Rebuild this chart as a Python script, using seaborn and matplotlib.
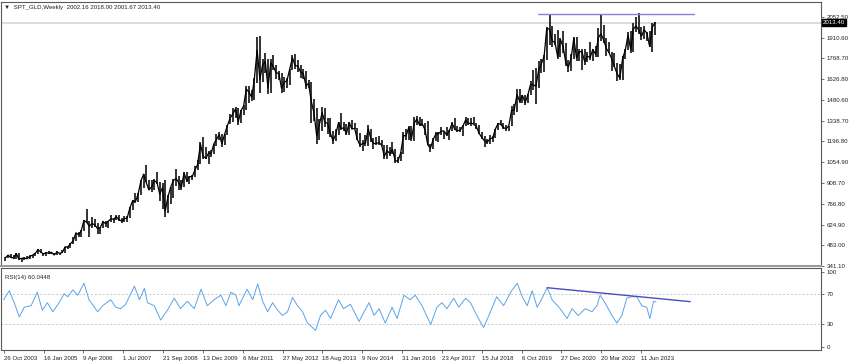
import pandas as pd
import numpy as np
import matplotlib
matplotlib.use("Agg")
import matplotlib.pyplot as plt
import seaborn as sns

# monthly gold prices (Nov 2003 .. Nov 2023)
close = [398, 416,
         400, 396, 427, 388, 394, 395, 391, 408, 416, 429, 453, 438,
         423, 434, 428, 436, 417, 436, 429, 433, 473, 470, 495, 513,
         569, 556, 582, 654, 643, 614, 633, 624, 599, 604, 646, 632,
         650, 665, 662, 680, 658, 650, 665, 673, 743, 789, 783, 834,
         923, 972, 916, 864, 885, 928, 914, 834, 880, 718, 816, 882,
         928, 942, 916, 883, 979, 926, 955, 955, 1001, 1040, 1180, 1096,
         1081, 1118, 1113, 1180, 1212, 1244, 1181, 1248, 1307, 1357, 1386, 1421,
         1333, 1410, 1439, 1556, 1536, 1500, 1628, 1826, 1624, 1722, 1746, 1564,
         1737, 1710, 1669, 1664, 1562, 1604, 1614, 1692, 1773, 1719, 1714, 1675,
         1662, 1578, 1597, 1472, 1393, 1234, 1313, 1396, 1327, 1323, 1253, 1202,
         1244, 1326, 1284, 1291, 1250, 1327, 1282, 1287, 1210, 1172, 1183, 1184,
         1284, 1213, 1183, 1183, 1190, 1172, 1095, 1133, 1115, 1142, 1065, 1061,
         1118, 1238, 1234, 1293, 1215, 1322, 1351, 1309, 1316, 1277, 1173, 1152,
         1211, 1249, 1249, 1268, 1269, 1242, 1269, 1322, 1280, 1271, 1275, 1303,
         1345, 1318, 1325, 1315, 1299, 1253, 1224, 1201, 1192, 1215, 1222, 1282,
         1321, 1313, 1292, 1284, 1305, 1409, 1413, 1520, 1472, 1513, 1464, 1517,
         1589, 1585, 1577, 1686, 1730, 1781, 1975, 1967, 1886, 1879, 1777, 1898,
         1847, 1734, 1708, 1769, 1906, 1770, 1814, 1813, 1743, 1783, 1774, 1829,
         1796, 1909, 1937, 1896, 1837, 1807, 1766, 1711, 1660, 1633, 1768, 1824,
         1928, 1827, 1969, 1990, 1963, 1919, 1965, 1940, 1849, 1983, 2013]

high = [400, 417,
        427, 416, 431, 428, 396, 400, 409, 414, 416, 430, 455, 456,
        430, 437, 446, 437, 432, 442, 430, 448, 474, 480, 497, 538,
        571, 573, 586, 655, 730, 650, 678, 665, 638, 611, 650, 648,
        652, 690, 672, 694, 690, 670, 683, 684, 745, 795, 845, 840,
        932, 975, 1033, 935, 935, 939, 988, 920, 912, 935, 830, 885,
        937, 1007, 960, 930, 985, 990, 960, 965, 1025, 1070, 1195, 1227,
        1162, 1128, 1140, 1180, 1250, 1265, 1245, 1250, 1313, 1388, 1424, 1431,
        1424, 1412, 1448, 1576, 1577, 1552, 1632, 1912, 1921, 1761, 1804, 1764,
        1764, 1790, 1720, 1680, 1670, 1640, 1630, 1694, 1790, 1796, 1755, 1724,
        1697, 1684, 1617, 1606, 1487, 1424, 1348, 1434, 1424, 1361, 1361, 1267,
        1280, 1332, 1392, 1331, 1315, 1332, 1345, 1322, 1290, 1255, 1208, 1238,
        1307, 1285, 1224, 1225, 1232, 1205, 1170, 1170, 1157, 1191, 1142, 1088,
        1123, 1263, 1282, 1303, 1304, 1362, 1375, 1367, 1352, 1325, 1338, 1180,
        1220, 1264, 1262, 1295, 1270, 1296, 1274, 1331, 1357, 1306, 1299, 1309,
        1366, 1361, 1356, 1366, 1326, 1309, 1265, 1237, 1214, 1243, 1237, 1284,
        1326, 1347, 1324, 1310, 1306, 1439, 1453, 1555, 1557, 1517, 1517, 1525,
        1611, 1689, 1704, 1747, 1765, 1789, 1984, 2075, 1992, 1933, 1965, 1906,
        1959, 1875, 1755, 1797, 1912, 1916, 1832, 1834, 1834, 1814, 1877, 1831,
        1853, 1974, 2070, 1998, 1910, 1880, 1814, 1808, 1735, 1729, 1786, 1833,
        1949, 1959, 2009, 2049, 2079, 1983, 1987, 1949, 1953, 2009, 2018]

low = [378, 398,
       399, 390, 392, 384, 372, 384, 387, 386, 397, 411, 422, 428,
       410, 413, 424, 423, 414, 414, 415, 428, 433, 461, 466, 490,
       515, 538, 538, 582, 640, 543, 605, 612, 560, 560, 605, 610,
       602, 645, 637, 660, 653, 640, 646, 642, 672, 723, 775, 782,
       832, 880, 918, 862, 850, 860, 906, 786, 736, 681, 705, 770,
       807, 890, 865, 865, 883, 920, 905, 930, 950, 1000, 1040, 1075,
       1075, 1045, 1088, 1114, 1163, 1207, 1157, 1175, 1241, 1314, 1330, 1360,
       1308, 1325, 1381, 1415, 1462, 1478, 1480, 1600, 1532, 1603, 1668, 1523,
       1527, 1688, 1627, 1616, 1527, 1540, 1565, 1582, 1687, 1692, 1673, 1635,
       1625, 1555, 1562, 1321, 1338, 1180, 1207, 1270, 1293, 1251, 1227, 1182,
       1200, 1240, 1278, 1268, 1240, 1240, 1282, 1281, 1206, 1160, 1131, 1168,
       1167, 1191, 1142, 1175, 1170, 1163, 1077, 1077, 1098, 1113, 1052, 1046,
       1061, 1110, 1208, 1207, 1200, 1200, 1310, 1301, 1305, 1241, 1171, 1122,
       1146, 1199, 1195, 1240, 1214, 1236, 1204, 1267, 1277, 1260, 1264, 1236,
       1303, 1307, 1303, 1314, 1282, 1245, 1211, 1160, 1180, 1182, 1196, 1221,
       1276, 1310, 1281, 1266, 1266, 1301, 1382, 1400, 1459, 1459, 1445, 1459,
       1517, 1548, 1451, 1567, 1670, 1671, 1757, 1863, 1848, 1860, 1764, 1775,
       1803, 1717, 1677, 1678, 1766, 1750, 1750, 1690, 1721, 1746, 1758, 1753,
       1780, 1780, 1890, 1872, 1787, 1805, 1681, 1710, 1615, 1617, 1616, 1765,
       1823, 1805, 1810, 1950, 1932, 1893, 1903, 1885, 1847, 1810, 1931]

# RSI(14): bar index (weeks from 26 Oct 2003) and value
rsi_week = [0, 9, 17, 25, 33, 44, 54, 62, 70, 79, 89, 97, 103, 111, 119, 129,
            137, 151, 159, 172, 180, 188, 196, 210, 218, 226, 231, 242, 252, 263,
            274, 284, 295, 306, 317, 327, 338, 349, 357, 365, 373, 378, 391, 400,
            408, 416, 424, 432, 440, 448, 456, 464, 472, 480, 488, 496, 501, 509,
            517, 525, 538, 546, 557, 571, 579, 587, 595, 603, 613, 624, 632, 643,
            653, 661, 672, 686, 696, 704, 712, 723, 731, 742, 750, 760, 771, 782,
            792, 803, 816, 825, 833, 841, 849, 857, 865, 873, 881, 894, 905, 913,
            923, 934, 945, 953, 958, 966, 977, 985, 993, 1001, 1009, 1017, 1025,
            1033, 1038, 1044, 1048]
rsi_value = [63, 75, 59, 40, 53, 55, 73, 49, 59, 47, 59, 71, 67, 76, 69, 85,
             63, 47, 55, 63, 53, 51, 57, 81, 63, 78, 59, 55, 36, 49,
             65, 51, 61, 51, 77, 55, 63, 69, 55, 73, 69, 55, 77, 63,
             84, 61, 47, 59, 49, 42, 47, 66, 55, 47, 32, 26, 22, 42,
             49, 38, 63, 51, 57, 34, 47, 59, 42, 51, 32, 53, 38, 69,
             63, 69, 55, 30, 53, 59, 51, 65, 53, 65, 59, 42, 26, 47,
             67, 55, 75, 85, 67, 55, 75, 53, 65, 79, 63, 51, 38, 51,
             42, 51, 47, 55, 69, 59, 42, 32, 42, 65, 67, 67, 55,
             53, 38, 61, 60.04]

x_labels = ["26 Oct 2003", "16 Jan 2005", "9 Apr 2006", "1 Jul 2007", "21 Sep 2008",
            "13 Dec 2009", "6 Mar 2011", "27 May 2012", "18 Aug 2013", "9 Nov 2014",
            "31 Jan 2016", "23 Apr 2017", "15 Jul 2018", "6 Oct 2019", "27 Dec 2020",
            "20 Mar 2022", "11 Jun 2023"]
price_ticks = [2052.50, 1910.60, 1768.70, 1626.80, 1480.60, 1338.70, 1196.80,
               1054.90, 908.70, 766.80, 624.90, 483.00, 341.10]
rsi_ticks = [100, 70, 30, 0]
last_price = 2013.40
resistance = 2070
res_weeks = [859, 1109]
rsi_trend_weeks = [873, 1103]
rsi_trend_values = [79, 60.4]

start = pd.Timestamp("2003-10-26")
months = pd.date_range("2003-11-01", periods=len(close), freq="MS")
df = pd.DataFrame({"close": close, "high": high, "low": low})
df["week"] = ((months + pd.Timedelta(days=14)) - start).days / 7.0
rsi_df = pd.DataFrame({"week": rsi_week, "rsi": rsi_value})

sns.set_style("white")
plt.rcParams["font.family"] = ["Liberation Sans", "DejaVu Sans"]
fs = 4.4
spine_c = "#5a5a5a"

fig = plt.figure(figsize=(8.5, 3.64), dpi=100)
ax = fig.add_axes([0.0012, 0.2692, 0.9647, 0.7253])
ax2 = fig.add_axes([0.0012, 0.0385, 0.9647, 0.2253])

# price pane
ax.axhline(last_price, color="#dcdcdc", lw=1.4, zorder=1)
ax.vlines(df["week"], df["low"], df["high"], color="#111111", lw=1.2, zorder=3)
sns.lineplot(data=df, x="week", y="close", ax=ax, color="black", lw=0.9, zorder=3)
ax.plot(res_weeks, [resistance, resistance], color="#8282dc", lw=1.0, zorder=4)
ax.set_xlim(-4.3, 1313)
ax.set_ylim(341.1, 2155)
ax.yaxis.tick_right()
ax.set_yticks(price_ticks)
ax.set_yticklabels([f"{v:.2f}" for v in price_ticks])
ax.set_xticks([])
ax.set_xlabel("")
ax.set_ylabel("")
ax.tick_params(axis="y", labelsize=fs, length=2.5, width=0.6, pad=1.5,
               color=spine_c, labelcolor="#222222", right=True)
for s in ax.spines.values():
    s.set_color(spine_c)
    s.set_linewidth(0.8)
ax.spines["bottom"].set_color("#9a9a9a")
ax.spines["bottom"].set_linewidth(1.5)
ax.text(1.002, last_price, f"{last_price:.2f}", transform=ax.get_yaxis_transform(),
        fontsize=fs, color="white", va="center", ha="left",
        bbox=dict(boxstyle="square,pad=0.15", fc="black", ec="black"))
fig.text(4 / 850, 1 - 8 / 364, "\u25bc  SPT_GLD,Weekly  2002.16 2018.00 2001.67 2013.40",
         fontsize=fs, va="center", ha="left", color="#222222")

# RSI pane
for lvl in (70, 30):
    ax2.axhline(lvl, color="#c8c8c8", lw=0.7, ls=(0, (2, 2)), zorder=1)
sns.lineplot(data=rsi_df, x="week", y="rsi", ax=ax2, color="#5aa4ea", lw=0.7, zorder=3)
ax2.plot(rsi_trend_weeks, rsi_trend_values, color="#4c4cc4", lw=1.0, zorder=4)
ax2.set_xlim(-4.3, 1313)
ax2.set_ylim(-4, 105.3)
ax2.yaxis.tick_right()
ax2.set_yticks(rsi_ticks)
ax2.set_yticklabels([str(v) for v in rsi_ticks])
ax2.set_xticks([64 * i for i in range(len(x_labels))])
ax2.set_xticklabels(x_labels, ha="left")
ax2.set_xlabel("")
ax2.set_ylabel("")
ax2.tick_params(axis="both", labelsize=fs, length=2.5, width=0.6, pad=1.5,
                color=spine_c, labelcolor="#222222")
ax2.tick_params(axis="y", right=True)
ax2.tick_params(axis="x", bottom=True)
for s in ax2.spines.values():
    s.set_color(spine_c)
    s.set_linewidth(0.8)
ax2.text(0.005, 0.92, "RSI(14) 60.0448", transform=ax2.transAxes, fontsize=fs,
         va="top", ha="left", color="#222222")

fig.savefig("out.png", dpi=100)
